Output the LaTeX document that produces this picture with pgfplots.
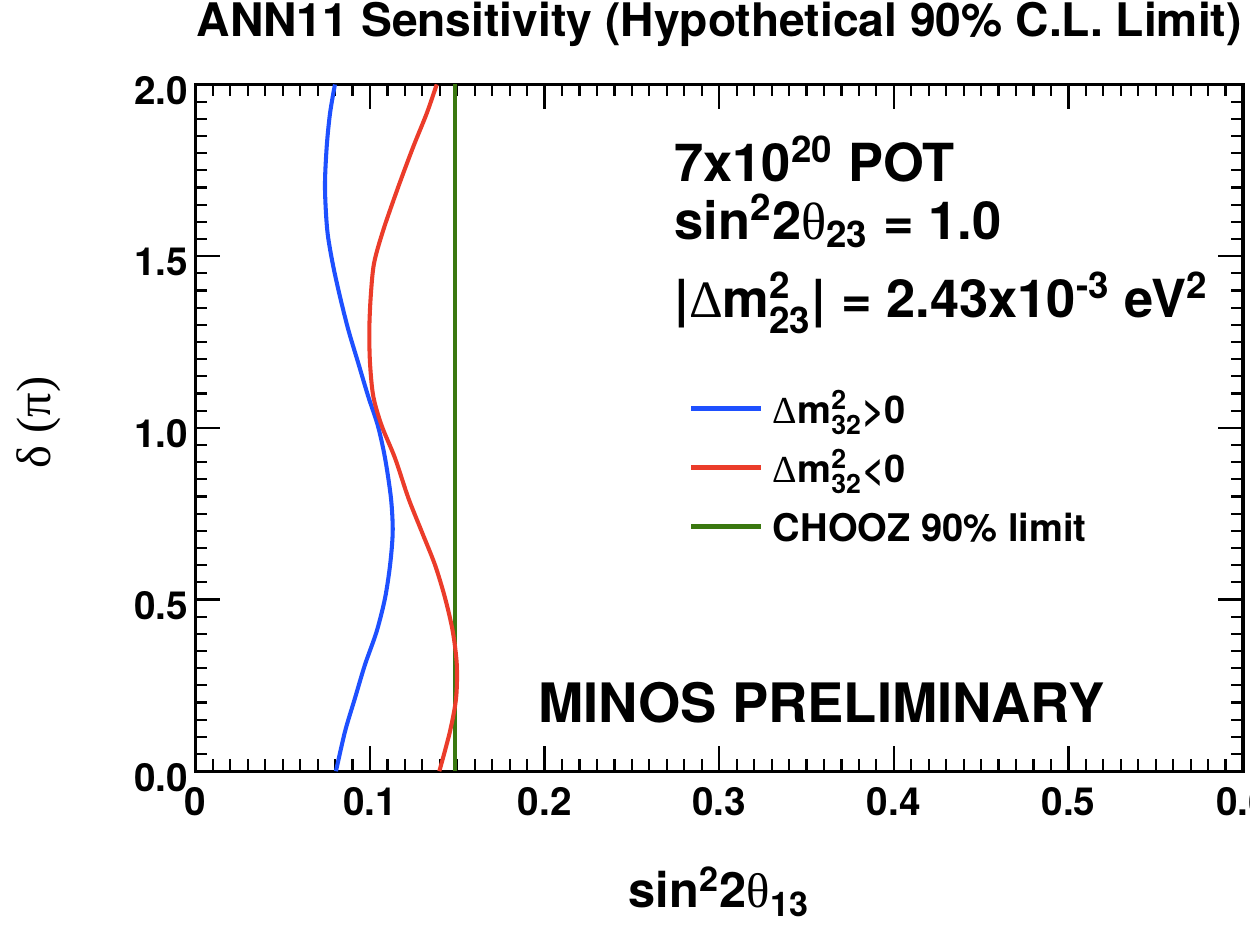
\documentclass[border=0pt]{standalone}
\usepackage{amsmath}
\usepackage{fontspec}
\setmainfont{TeX Gyre Heros}
\newfontfamily\grk{Liberation Serif}
\usepackage{pgfplots}
\pgfplotsset{compat=1.18}
\definecolor{cblue}{RGB}{30,80,255}
\definecolor{cred}{RGB}{235,60,42}
\definecolor{cgreen}{RGB}{58,120,16}
\newcommand{\ssc}[2]{$^{\text{#1}}_{\text{#2}}$}
\begin{document}
\begin{tikzpicture}
\begin{axis}[
  scale only axis, width=335.36pt, height=219.84pt,
  xmin=0, xmax=0.6, ymin=0, ymax=2,
  xtick={0,0.1,0.2,0.3,0.4,0.5,0.6},
  xticklabels={0,0.1,0.2,0.3,0.4,0.5,0.6},
  ytick={0,0.5,1,1.5,2},
  yticklabels={0.0,0.5,1.0,1.5,2.0},
  minor x tick num=9, minor y tick num=9,
  tick align=inside, tick pos=both,
  major tick length=8pt, minor tick length=3.8pt,
  axis line style={line width=1pt},
  every tick/.style={black, line width=0.8pt},
  every minor tick/.style={black, line width=0.7pt},
  /pgf/number format/assume math mode=true,
  xticklabel style={font=\bfseries\fontsize{12.4}{13}\selectfont, inner sep=0pt, anchor=north, yshift=-5pt},
  yticklabel style={font=\bfseries\fontsize{12.4}{13}\selectfont, inner sep=0pt, anchor=east, xshift=-2.2pt, yshift=-2pt},
  title={ANN11 Sensitivity (Hypothetical 90\% C.L. Limit)},
  title style={at={(0.5,1)}, anchor=base, yshift=9.44pt, inner sep=0pt, font=\bfseries\fontsize{14.8}{16}\selectfont},
  xlabel={sin\ssc{2}{}2{\grk\mdseries θ}$_{\text{13}}$},
  xlabel style={at={(0.5,0)}, anchor=base, yshift=-43.7pt, inner sep=0pt, font=\bfseries\fontsize{15.6}{16}\selectfont},
  ylabel={δ (π)},
  ylabel style={at={(axis description cs:-0.1498,0.508)}, anchor=center, inner sep=0pt, font=\grk\fontsize{15.5}{16}\selectfont},
  legend image code/.code={\draw[#1] (0pt,0pt) -- (22.4pt,0pt);},
  legend style={draw=none, fill=none, at={(axis description cs:0.4704,0.5623)}, anchor=north west,
    inner sep=0pt, row sep=4.3pt, column sep=3pt,
    font=\bfseries\fontsize{12.2}{14}\selectfont,
    nodes={inner sep=0pt, text height=12pt, text depth=2.6pt}},
  legend cell align=left,
]
\addplot[cgreen, line width=1.5pt, forget plot] coordinates {(0.1487,0) (0.1487,2)};
\addplot[cblue, line width=1.3pt, smooth] coordinates {
(0.0805,0.0) (0.0857,0.116) (0.0914,0.213) (0.0971,0.310) (0.1038,0.407)
(0.1086,0.504) (0.1115,0.601) (0.1130,0.698) (0.1120,0.795) (0.1086,0.912)
(0.1045,1.006) (0.0990,1.091) (0.0933,1.188) (0.0876,1.285) (0.0828,1.382)
(0.0786,1.479) (0.0755,1.576) (0.0742,1.702) (0.0752,1.819) (0.0771,1.916)
(0.0799,2.0)};
\addlegendentry{{\grk\mdseries Δ}m\ssc{2}{32}>0}
\addplot[cred, line width=1.3pt, smooth] coordinates {
(0.1397,0.0) (0.1458,0.116) (0.1493,0.213) (0.1497,0.310) (0.1474,0.407)
(0.1430,0.504) (0.1372,0.601) (0.1296,0.698) (0.1220,0.795) (0.1143,0.912)
(0.1067,1.006) (0.1019,1.091) (0.1000,1.188) (0.0996,1.285) (0.1004,1.382)
(0.1023,1.479) (0.1076,1.576) (0.1162,1.702) (0.1248,1.819) (0.1325,1.916)
(0.1382,2.0)};
\addlegendentry{{\grk\mdseries Δ}m\ssc{2}{32}<0}
\addlegendimage{cgreen, line width=1.5pt}
\addlegendentry{CHOOZ 90\% limit}
\coordinate (SW) at (rel axis cs:0,0);
\coordinate (NE) at (rel axis cs:1,1);
\node[anchor=base west, inner sep=0pt, font=\bfseries\fontsize{16.8}{18}\selectfont] at (rel axis cs:0.4566,0.8585) {7x10$^{\text{20}}$ POT};
\node[anchor=base west, inner sep=0pt, font=\bfseries\fontsize{16.8}{18}\selectfont] at (rel axis cs:0.4566,0.7737) {sin$^{\text{2}}$2{\grk\mdseries θ}$_{\text{23}}$ = 1.0};
\node[anchor=base west, inner sep=0pt, font=\bfseries\fontsize{16.8}{18}\selectfont] at (rel axis cs:0.4566,0.6601) {|{\grk\mdseries Δ}m\ssc{2}{23}| = 2.43x10$^{\text{-3}}$ eV$^{\text{2}}$};
\node[anchor=base west, inner sep=0pt, font=\bfseries\fontsize{17.4}{18}\selectfont] at (rel axis cs:0.3268,0.0710) {MINOS PRELIMINARY};
\end{axis}
\pgfresetboundingbox
\path[use as bounding box] ([xshift=-62.56pt,yshift=-49.76pt]SW) rectangle ([xshift=2.24pt,yshift=27.04pt]NE);
\end{tikzpicture}
\end{document}
